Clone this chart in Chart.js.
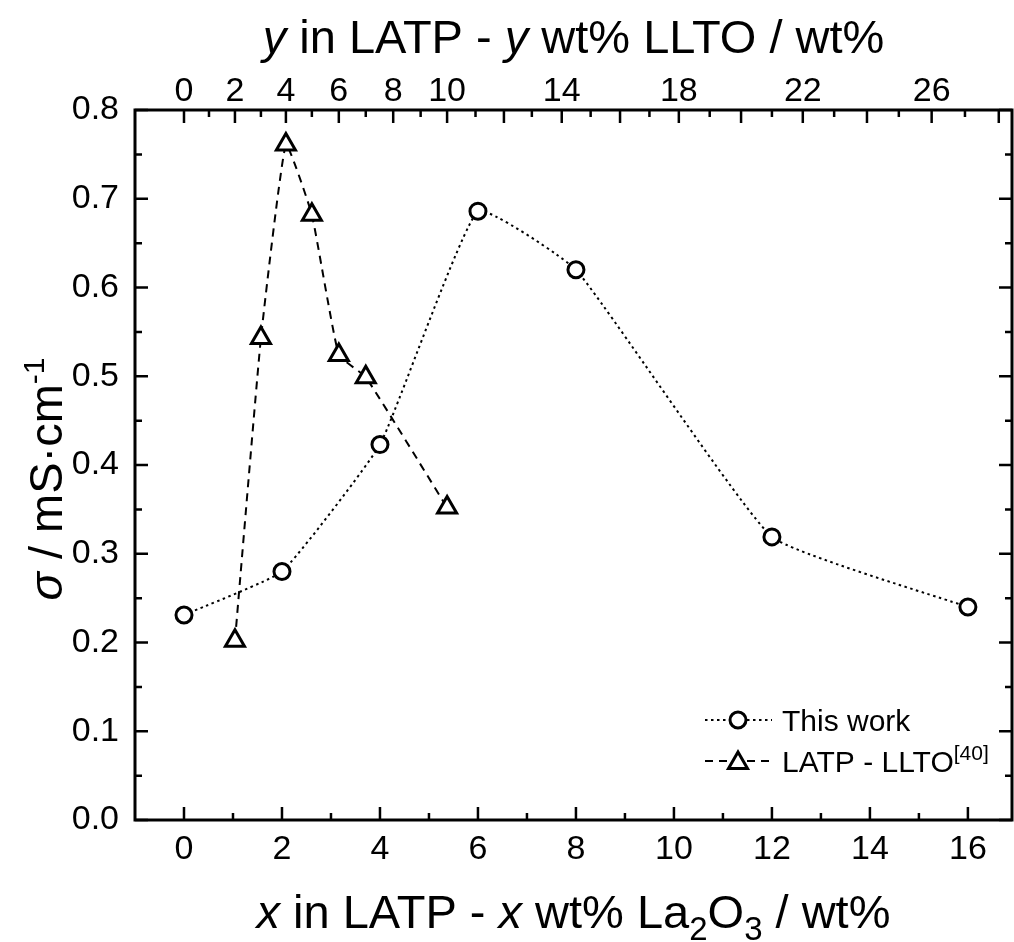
<!DOCTYPE html>
<html lang="en">
<head>
<meta charset="UTF-8">
<title>Conductivity vs additive content</title>
<script src="https://cdn.jsdelivr.net/npm/chart.js@4.4.1/dist/chart.umd.min.js"></script>
<style>
  body { margin: 0; background: #fff; }
  canvas { display: block; }
</style>
</head>
<body>
<canvas id="chart" width="1014" height="942"></canvas>
<script>
// This work: LATP - x wt% La2O3
const la2o3Wt = [0, 2, 4, 6, 8, 12, 16];
const sigmaLa2o3 = [0.231, 0.280, 0.423, 0.686, 0.620, 0.319, 0.240];

// Ref [40]: LATP - y wt% LLTO (read on the top axis)
const lltoWt = [2, 3, 4, 5, 6, 7, 10];
const sigmaLlto = [0.202, 0.543, 0.761, 0.682, 0.524, 0.499, 0.352];

// bottom axis
const xMajor = [0, 2, 4, 6, 8, 10, 12, 14, 16];
const xMinor = [1, 3, 5, 7, 9, 11, 13, 15];
// left axis
const yMajor = [0, 0.1, 0.2, 0.3, 0.4, 0.5, 0.6, 0.7, 0.8];

// top axis: wt% LLTO ticks and where each one falls on the La2O3 scale
const lltoTickWt = [0, 1, 2, 3, 4, 5, 6, 7, 8, 9, 10, 11, 12, 13, 14, 15, 16, 17, 18, 19, 20, 21, 22, 23, 24, 25, 26, 27, 28];
const lltoTickAt = [0, 0.51, 1.04, 1.57, 2.08, 2.61, 3.16, 3.71, 4.27, 4.83, 5.37, 5.95, 6.53, 7.10, 7.71, 8.30, 8.90, 9.50, 10.10, 10.73, 11.37, 12.00, 12.63, 13.27, 13.94, 14.59, 15.26, 15.94, 16.63];
const lltoLabels = [0, 2, 4, 6, 8, 10, 14, 18, 22, 26];

const X_MIN = -1, X_MAX = 16.9;
const FONT = '"Liberation Sans", Arial, sans-serif';

function lltoToX(w) {
    return lltoTickAt[lltoTickWt.indexOf(w)];
}

// fixed axis box, no extra label padding
function fixBox(prop, size) {
    return s => {
        s[prop] = size;
        s.paddingLeft = s.paddingRight = s.paddingTop = s.paddingBottom = 0;
    };
}

// frame, inward ticks, titles and legend
const decorPlugin = {
    id: 'decor',
    afterDatasetsDraw(chart) {
        const ctx = chart.ctx;
        const a = chart.chartArea;
        const xs = chart.scales.x, ys = chart.scales.y;
        const MAJ = 13, MIN = 7;
        ctx.save();
        ctx.strokeStyle = '#000';
        ctx.lineWidth = 3;
        ctx.setLineDash([]);
        ctx.strokeRect(a.left, a.top, a.right - a.left, a.bottom - a.top);

        ctx.lineWidth = 2.5;
        ctx.beginPath();
        xMajor.forEach(v => { const p = xs.getPixelForValue(v); ctx.moveTo(p, a.bottom); ctx.lineTo(p, a.bottom - MAJ); });
        xMinor.forEach(v => { const p = xs.getPixelForValue(v); ctx.moveTo(p, a.bottom); ctx.lineTo(p, a.bottom - MIN); });
        lltoTickWt.forEach((w, i) => {
            const p = xs.getPixelForValue(lltoTickAt[i]);
            ctx.moveTo(p, a.top); ctx.lineTo(p, a.top + (w % 2 === 0 ? MAJ : MIN));
        });
        yMajor.forEach((v, i) => {
            let p = ys.getPixelForValue(v);
            ctx.moveTo(a.left, p); ctx.lineTo(a.left + MAJ, p);
            ctx.moveTo(a.right, p); ctx.lineTo(a.right - MAJ, p);
            if (i < yMajor.length - 1) {
                p = ys.getPixelForValue(v + 0.05);
                ctx.moveTo(a.left, p); ctx.lineTo(a.left + MIN, p);
                ctx.moveTo(a.right, p); ctx.lineTo(a.right - MIN, p);
            }
        });
        ctx.stroke();
        ctx.restore();
    },
    afterDraw(chart) {
        const ctx = chart.ctx;
        const a = chart.chartArea;
        const cx = (a.left + a.right) / 2;
        ctx.save();
        ctx.fillStyle = '#000';
        ctx.textBaseline = 'alphabetic';

        drawRuns(ctx, [
            { t: 'x', f: 'italic 47px ' + FONT },
            { t: ' in LATP - ', f: '47px ' + FONT },
            { t: 'x', f: 'italic 47px ' + FONT },
            { t: ' wt% La', f: '47px ' + FONT },
            { t: '2', f: '33px ' + FONT, dy: 12 },
            { t: 'O', f: '47px ' + FONT },
            { t: '3', f: '33px ' + FONT, dy: 12 },
            { t: ' / wt%', f: '47px ' + FONT }
        ], cx, 928);

        drawRuns(ctx, [
            { t: 'y', f: 'italic 47px ' + FONT },
            { t: ' in LATP - ', f: '47px ' + FONT },
            { t: 'y', f: 'italic 47px ' + FONT },
            { t: ' wt% LLTO / wt%', f: '47px ' + FONT }
        ], cx, 53);

        ctx.save();
        ctx.translate(62, (a.top + a.bottom) / 2 + 14);
        ctx.rotate(-Math.PI / 2);
        drawRuns(ctx, [
            { t: 'σ', f: 'italic 47px ' + FONT },
            { t: ' / mS·cm', f: '47px ' + FONT },
            { t: '-1', f: '30px ' + FONT, dy: -18 }
        ], 0, 0);
        ctx.restore();

        // legend
        const ds = chart.data.datasets;
        const rows = [
            { y: 720, d: ds[0], runs: [{ t: 'This work', f: '30px ' + FONT }] },
            { y: 761, d: ds[1], runs: [{ t: 'LATP - LLTO', f: '30px ' + FONT }, { t: '[40]', f: '21px ' + FONT, dy: -12 }] }
        ];
        rows.forEach(r => {
            ctx.save();
            ctx.strokeStyle = '#000';
            ctx.lineWidth = r.d.borderWidth;
            ctx.setLineDash(r.d.borderDash);
            ctx.beginPath();
            ctx.moveTo(705, r.y);
            ctx.lineTo(772, r.y);
            ctx.stroke();
            ctx.setLineDash([]);
            ctx.fillStyle = '#fff';
            ctx.lineWidth = r.d.pointBorderWidth;
            Chart.helpers.drawPoint(ctx, { pointStyle: r.d.pointStyle, radius: r.d.pointRadius, rotation: 0, borderWidth: r.d.pointBorderWidth }, 738, r.y + (r.d.pointStyle === 'triangle' ? 2 : 0));
            ctx.restore();
            drawRunsLeft(ctx, r.runs, 782, r.y + 11);
        });
        ctx.restore();
    }
};

function runsWidth(ctx, runs) {
    let w = 0;
    runs.forEach(r => { ctx.font = r.f; w += ctx.measureText(r.t).width; });
    return w;
}
function drawRunsLeft(ctx, runs, x, y) {
    ctx.textAlign = 'left';
    runs.forEach(r => {
        ctx.font = r.f;
        ctx.fillText(r.t, x, y + (r.dy || 0));
        x += ctx.measureText(r.t).width;
    });
}
function drawRuns(ctx, runs, cx, y) {
    drawRunsLeft(ctx, runs, cx - runsWidth(ctx, runs) / 2, y);
}

const tickFont = { family: FONT, size: 34 };

new Chart(document.getElementById('chart'), {
    type: 'line',
    data: {
        datasets: [{
            label: 'This work',
            data: la2o3Wt.map((x, i) => ({ x: x, y: sigmaLa2o3[i] })),
            borderColor: '#000',
            borderWidth: 2,
            borderDash: [2.5, 3.5],
            tension: 0.12,
            pointStyle: 'circle',
            pointRadius: 8,
            pointBorderWidth: 3,
            pointBackgroundColor: '#fff',
            pointBorderColor: '#000'
        }, {
            label: 'LATP - LLTO[40]',
            data: lltoWt.map((w, i) => ({ x: lltoToX(w), y: sigmaLlto[i] })),
            borderColor: '#000',
            borderWidth: 2,
            borderDash: [8, 6],
            tension: 0.12,
            pointStyle: 'triangle',
            pointRadius: 11,
            pointBorderWidth: 3,
            pointBackgroundColor: '#fff',
            pointBorderColor: '#000'
        }]
    },
    options: {
        responsive: false,
        animation: false,
        layout: { autoPadding: false, padding: { left: 0, right: 2, top: 0, bottom: 0 } },
        plugins: { legend: { display: false }, tooltip: { enabled: false } },
        scales: {
            x: {
                type: 'linear', position: 'bottom', min: X_MIN, max: X_MAX,
                grid: { display: false, drawTicks: false },
                border: { display: false },
                afterBuildTicks: s => { s.ticks = xMajor.map(v => ({ value: v })); },
                afterFit: fixBox('height', 122),
                ticks: { font: tickFont, color: '#000', padding: 9, maxRotation: 0, autoSkip: false }
            },
            xTop: {
                type: 'linear', position: 'top', min: X_MIN, max: X_MAX,
                grid: { display: false, drawTicks: false },
                border: { display: false },
                afterBuildTicks: s => { s.ticks = lltoLabels.map(w => ({ value: lltoToX(w) })); },
                afterFit: fixBox('height', 110),
                ticks: { font: tickFont, color: '#000', padding: -2, maxRotation: 0, autoSkip: false,
                    callback: (v, i) => String(lltoLabels[i]) }
            },
            y: {
                type: 'linear', position: 'left', min: 0, max: 0.8,
                grid: { display: false, drawTicks: false },
                border: { display: false },
                afterBuildTicks: s => { s.ticks = yMajor.map(v => ({ value: v })); },
                afterFit: fixBox('width', 135),
                ticks: { font: tickFont, color: '#000', padding: 16, callback: v => v.toFixed(1) }
            }
        }
    },
    plugins: [decorPlugin]
});
</script>
</body>
</html>
